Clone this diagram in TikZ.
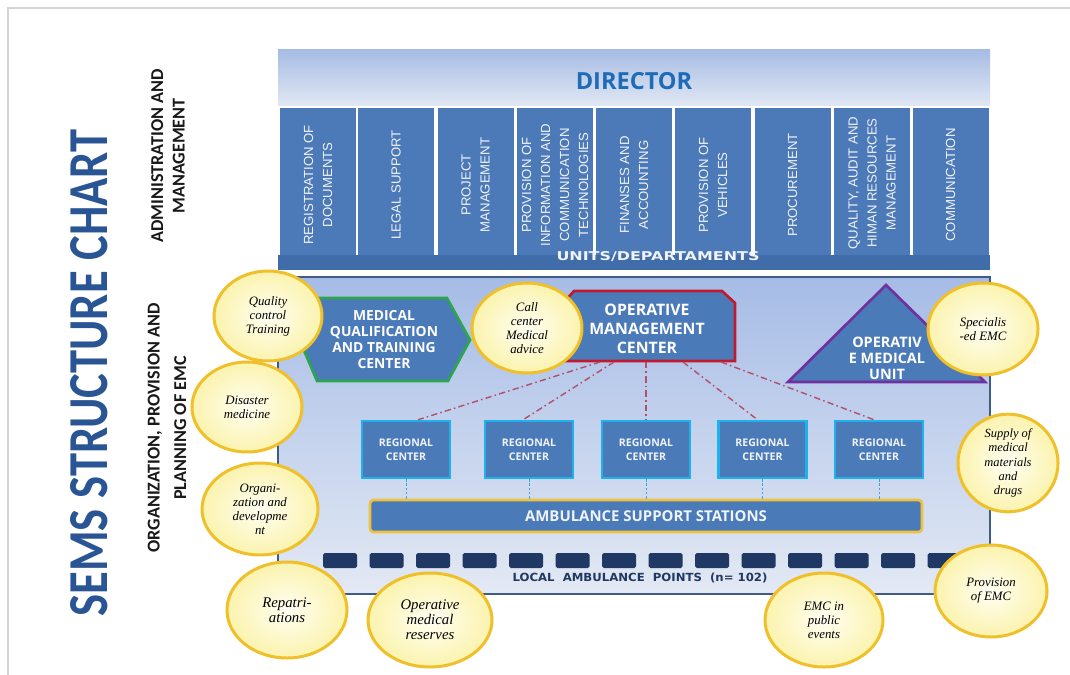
\documentclass[tikz,border=0pt]{standalone}
\usepackage{fontspec}
\setmainfont{Liberation Serif}
\newfontfamily\osans{Open Sans}
\newfontfamily\carl{Carlito}
\newfontfamily\arl{Liberation Sans}
\newfontfamily\dvs{DejaVu Sans}
\usetikzlibrary{shapes.geometric}
\newcommand\pxl[1]{#1*0.02cm}
\definecolor{bordergray}{HTML}{D4D4D4}
\definecolor{dirtop}{HTML}{A7BCE3}
\definecolor{dirbot}{HTML}{E1E8F4}
\definecolor{dirblue}{HTML}{1E6BB8}
\definecolor{colblue}{HTML}{4C79B7}
\definecolor{unitbar}{HTML}{406CA9}
\definecolor{frametop}{HTML}{A6BCE6}
\definecolor{framebot}{HTML}{E3E9F4}
\definecolor{frameline}{HTML}{3F5C86}
\definecolor{boxblue}{HTML}{4B7AB9}
\definecolor{mqgreen}{HTML}{2BA64C}
\definecolor{omred}{HTML}{C01A2C}
\definecolor{oupurple}{HTML}{7030A0}
\definecolor{rccyan}{HTML}{1DB2EE}
\definecolor{gold}{HTML}{EEC23A}
\definecolor{circline}{HTML}{F0C02A}
\definecolor{circin}{HTML}{FFFEF2}
\definecolor{circout}{HTML}{FBF3AE}
\definecolor{navy}{HTML}{1F3864}
\definecolor{dashred}{HTML}{B0506A}
\definecolor{dashblue}{HTML}{3FA3D8}
\definecolor{titleblue}{HTML}{2A5595}
\definecolor{paletext}{HTML}{F0F3F8}
\begin{document}
\begin{tikzpicture}[x=0.02cm,y=-0.02cm,
  col/.style={rectangle, fill=colblue, inner sep=0pt, minimum width=\pxl{76}, minimum height=\pxl{147}},
  coltxt/.style={rotate=90, align=center, text=paletext, inner sep=0pt, font=\arl\fontsize{7.5pt}{10.8pt}\selectfont},
  bigtxt/.style={align=center, text=white, inner sep=0pt},
  rcbox/.style={rectangle, fill=boxblue, draw=rccyan, line width=1.4pt, minimum width=\pxl{88}, minimum height=\pxl{57}, align=center, text=paletext, inner sep=0pt, font=\osans\bfseries\fontsize{6pt}{7.9pt}\selectfont},
  lap/.style={rectangle, fill=navy, rounded corners=1pt, minimum width=\pxl{34}, minimum height=\pxl{15}, inner sep=0pt},
  circ/.style={ellipse, draw=circline, line width=1.7pt, inner color=circin, outer color=circout, inner sep=0pt, align=center, text=black, font=\itshape\fontsize{7.3pt}{8pt}\selectfont},
  omcline/.style={draw=dashred, line width=0.8pt, dash pattern=on 3.6pt off 1.8pt on 0.9pt off 1.8pt},
  rcline/.style={draw=dashblue, line width=0.5pt, dash pattern=on 1.4pt off 1pt}
]
\useasboundingbox (0,0) rectangle (1070,675);
\fill[white] (0,0) rectangle (1070,675);
\draw[bordergray, line width=1pt] (8,675) -- (8,8) -- (1070,8);

% director band
\node[rectangle, top color=dirtop, bottom color=dirbot, inner sep=0pt, minimum width=\pxl{712}, minimum height=\pxl{56}] (dirband) at (634,78) {};
\node[text=dirblue, inner sep=0pt, font=\osans\bfseries\fontsize{13.4pt}{14pt}\selectfont] (director) at (634,81) {DIRECTOR};

% unit columns
\node[col] (u1) at (318,181.5) {};
\node[col] (u2) at (396,181.5) {};
\node[col] (u3) at (475.5,181.5) {};
\node[col] (u4) at (555,181.5) {};
\node[col] (u5) at (634,181.5) {};
\node[col] (u6) at (713,181.5) {};
\node[col] (u7) at (792.5,181.5) {};
\node[col] (u8) at (872,181.5) {};
\node[col] (u9) at (950.5,181.5) {};
\node[coltxt] (t1) at (318,185) {REGISTRATION OF\\DOCUMENTS};
\node[coltxt] (t2) at (396,185) {LEGAL SUPPORT};
\node[coltxt] (t3) at (475.5,185) {PROJECT\\MANAGEMENT};
\node[coltxt] (t4) at (555,185) {PROVISION OF\\INFORMATION AND\\COMMUNICATION\\TECHNOLOGIES};
\node[coltxt] (t5) at (634,185) {FINANSES AND\\ACCOUNTING};
\node[coltxt] (t6) at (713,185) {PROVISION OF\\VEHICLES};
\node[coltxt] (t7) at (792.5,185) {PROCUREMENT};
\node[coltxt] (t8) at (872,183) {QUALITY, AUDIT AND\\HIMAN RESOURCES\\MANAGEMENT};
\node[coltxt] (t9) at (950.5,185) {COMMUNICATION};

% units bar
\node[rectangle, fill=unitbar, inner sep=0pt, minimum width=\pxl{712}, minimum height=\pxl{15}] (units) at (634,262.5) {};
\node[inner sep=0pt, text=paletext] (unitstxt) at (658,257) {\resizebox{4.06cm}{0.18cm}{\dvs\bfseries UNITS/DEPARTAMENTS}};

% lower frame
\node[rectangle, top color=frametop, bottom color=framebot, draw=frameline, line width=1.6pt, inner sep=0pt, minimum width=\pxl{712}, minimum height=\pxl{317}] (frame) at (634,435.5) {};

% medical qualification
\draw[fill=boxblue, draw=mqgreen, line width=1.5pt] (300,341) -- (315,298) -- (447,298) -- (470,340) -- (448,381) -- (317,381) -- cycle;
\node[bigtxt, font=\osans\bfseries\fontsize{7.9pt}{9.1pt}\selectfont] (mqtc) at (384,340) {MEDICAL\\QUALIFICATION\\AND TRAINING\\CENTER};

% operative management center
\draw[fill=boxblue, draw=omred, line width=1.5pt] (566,300) -- (574,291) -- (722,291) -- (735,303) -- (735,361) -- (566,361) -- cycle;
\node[bigtxt, font=\osans\bfseries\fontsize{9pt}{10.8pt}\selectfont] (omc) at (647,329) {OPERATIVE\\MANAGEMENT\\CENTER};

% operative medical unit
\draw[fill=boxblue, draw=oupurple, line width=1.5pt] (886,285) -- (985,382) -- (788,382) -- cycle;
\node[bigtxt, font=\osans\bfseries\fontsize{8.2pt}{9.1pt}\selectfont] (omu) at (887,358) {OPERATIV\\E MEDICAL\\UNIT};

% regional centers
\node[rcbox] (rc1) at (406,449.5) {REGIONAL\\CENTER};
\node[rcbox] (rc2) at (529,449.5) {REGIONAL\\CENTER};
\node[rcbox] (rc3) at (646,449.5) {REGIONAL\\CENTER};
\node[rcbox] (rc4) at (762.5,449.5) {REGIONAL\\CENTER};
\node[rcbox] (rc5) at (879,449.5) {REGIONAL\\CENTER};

% dash-dot connectors from OMC
\coordinate (ob1) at (600,362);
\coordinate (ob2) at (614,362);
\coordinate (ob3) at (646,362);
\coordinate (ob4) at (683,362);
\coordinate (ob5) at (721,362);
\draw[omcline] (ob1) -- ([xshift=\pxl{12}]rc1.north);
\draw[omcline] (ob2) -- ([xshift=\pxl{-6}]rc2.north);
\draw[omcline] (ob3) -- (rc3.north);
\draw[omcline] (ob4) -- ([xshift=\pxl{-5}]rc4.north);
\draw[omcline] (ob5) -- ([xshift=\pxl{-5}]rc5.north);

% ambulance support stations
\node[rectangle, fill=boxblue, draw=gold, line width=1.5pt, rounded corners=2pt, inner sep=0pt, minimum width=\pxl{552}, minimum height=\pxl{32}, text=paletext, font=\osans\bfseries\fontsize{8.5pt}{9pt}\selectfont] (asb) at (646,516) {AMBULANCE SUPPORT STATIONS};
\draw[rcline] (rc1.south) -- (rc1.south |- asb.north);
\draw[rcline] (rc2.south) -- (rc2.south |- asb.north);
\draw[rcline] (rc3.south) -- (rc3.south |- asb.north);
\draw[rcline] (rc4.south) -- (rc4.south |- asb.north);
\draw[rcline] (rc5.south) -- (rc5.south |- asb.north);

% local ambulance points
\foreach \i in {0,...,13}{
  \node[lap] (lap\i) at ({340+46.5*\i},560.5) {};
}
\node[inner sep=0pt, text=navy] (laptxt) at (640,578) {\resizebox{5.1cm}{0.17cm}{\dvs\bfseries LOCAL\ \ AMBULANCE\ \ POINTS\ \ (n=\ 102)}};

% circles
\node[circ, minimum width=\pxl{108}, minimum height=\pxl{90}] (qc) at (268,316) {Quality\\control\\Training};
\node[circ, minimum width=\pxl{110}, minimum height=\pxl{90}] (call) at (527,328) {Call\\center\\Medical\\advice};
\node[circ, minimum width=\pxl{110}, minimum height=\pxl{90}] (dis) at (247,407) {Disaster\\medicine};
\node[circ, minimum width=\pxl{116}, minimum height=\pxl{92}] (org) at (260,509) {Organi-\\zation and\\developme\\nt};
\node[circ, minimum width=\pxl{120}, minimum height=\pxl{96}, font=\itshape\fontsize{8.4pt}{8.6pt}\selectfont] (rep) at (287,610) {Repatri-\\ations};
\node[circ, minimum width=\pxl{124}, minimum height=\pxl{94}, font=\itshape\fontsize{8.4pt}{8.6pt}\selectfont] (omr) at (430,620) {Operative\\medical\\reserves};
\node[circ, minimum width=\pxl{118}, minimum height=\pxl{94}] (pub) at (824,620) {EMC in\\public\\events};
\node[circ, minimum width=\pxl{112}, minimum height=\pxl{92}] (prov) at (991,591) {Provision\\of EMC};
\node[circ, minimum width=\pxl{100}, minimum height=\pxl{96}, font=\itshape\fontsize{7.1pt}{8.2pt}\selectfont] (sup) at (1008,463) {Supply of\\medical\\materials\\and\\drugs};
\node[circ, minimum width=\pxl{110}, minimum height=\pxl{92}] (spec) at (983,329) {Specialis\\-ed EMC};

% left labels
\node[rotate=90, inner sep=0pt, text=titleblue] (title) at (89,373) {\resizebox{9.74cm}{0.74cm}{\carl\bfseries SEMS STRUCTURE CHART}};
\node[rotate=90, inner sep=0pt, align=center, text=black!90, font=\carl\bfseries\fontsize{10.3pt}{12.2pt}\selectfont] (adm) at (168,156) {ADMINISTRATION AND\\MANAGEMENT};
\node[rotate=90, inner sep=0pt, align=center, text=black!90, font=\carl\bfseries\fontsize{10.3pt}{15.2pt}\selectfont] (orgl) at (167,428) {ORGANIZATION, PROVISION AND\\PLANNING OF EMC};
\end{tikzpicture}
\end{document}
